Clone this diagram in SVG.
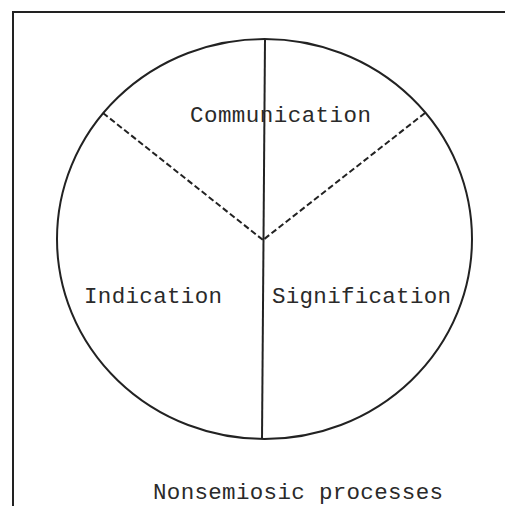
<svg xmlns="http://www.w3.org/2000/svg" width="505" height="506" viewBox="0 0 505 506">
<style>
.ln{fill:none;stroke:#222;stroke-width:2}
.dash{fill:none;stroke:#222;stroke-width:2;stroke-dasharray:6 3}
.t{font-family:"Liberation Mono","Courier New",monospace;font-size:22.5px;fill:#2a2a2a}
</style>
<rect width="505" height="506" fill="#fff"/>
<g id="frame"><path class="ln" d="M13,520 L13,12 L520,12"/></g>
<g id="circle"><ellipse class="ln" cx="264.5" cy="239" rx="207.5" ry="200"/></g>
<g id="connectors">
<line class="ln" x1="265" y1="39" x2="262" y2="439"/>
<line class="dash" x1="103" y1="113" x2="263" y2="240"/>
<line class="dash" x1="425" y1="113" x2="263" y2="240"/>
</g>
<g id="communication"><text class="t" x="190" y="122" textLength="181">Communication</text></g>
<g id="indication"><text class="t" x="84" y="303" textLength="138">Indication</text></g>
<g id="signification"><text class="t" x="272" y="303" textLength="179">Signification</text></g>
<g id="nonsemiosic"><text class="t" x="153" y="499" textLength="290">Nonsemiosic processes</text></g>
</svg>
